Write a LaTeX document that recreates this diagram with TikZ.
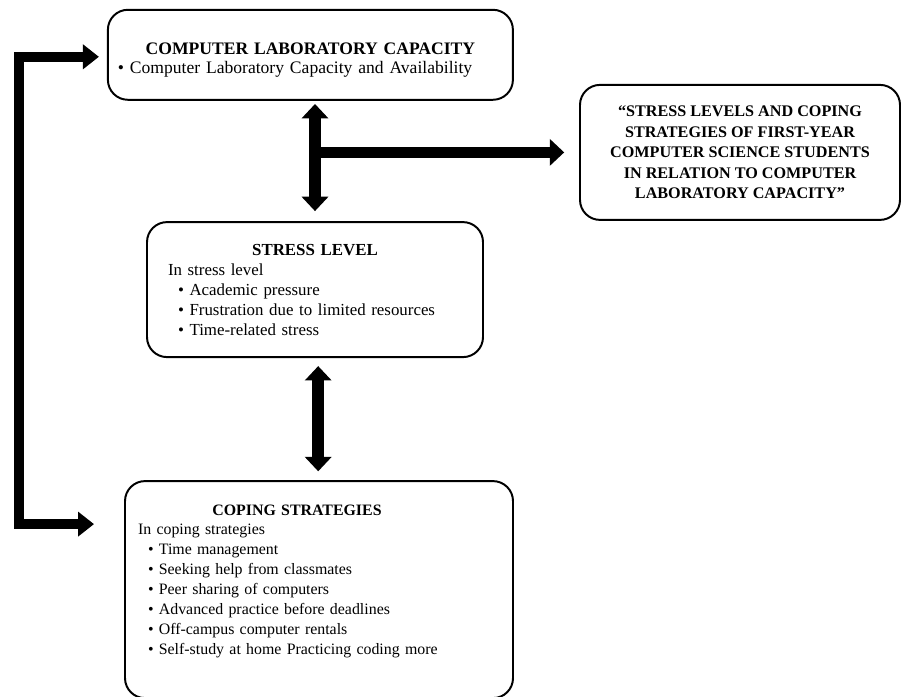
\documentclass[tikz,border=0pt]{standalone}
\usepackage{fontspec}
\setmainfont{Liberation Serif}
\usetikzlibrary{arrows.meta,calc}

\begin{document}
\begin{tikzpicture}[
        box/.style = {draw = black, line width = 1.4pt, rounded corners = 0.5cm, fill = white},
        fat/.style = {line width = 0.29cm, >={Triangle[width = 0.65cm, length = 0.36cm]}},
        thin loop/.style = {line width = 0.25cm, >={Triangle[width = 0.6cm, length = 0.4cm]}},
        font = \fontsize{11.5}{14.2}\selectfont]
        \useasboundingbox (0, 0) rectangle (22.55, 17.4);
        \node[box, minimum width = 10.125cm, minimum height = 2.25cm, text width = 9.625cm, font = \fontsize{12.5}{13.6}\selectfont] (lab) at (7.76, 16.03)
            {{\centering\rule{0pt}{0.55cm}\textbf{COMPUTER LABORATORY CAPACITY}\par}• Computer Laboratory Capacity and Availability};
        \node[box, minimum width = 8cm, minimum height = 3.375cm, align = center, font = \fontsize{11.5}{14.6}\selectfont\bfseries] (study) at (18.5, 13.59)
            {“STRESS LEVELS AND COPING\\ STRATEGIES OF FIRST-YEAR\\ COMPUTER SCIENCE STUDENTS\\ IN RELATION TO COMPUTER\\ LABORATORY CAPACITY”};
        \node[box, minimum width = 8.4cm, minimum height = 3.375cm, text width = 7.35cm, font = \fontsize{12}{14.2}\selectfont] (stress) at (7.875, 10.16)
            {{\centering\textbf{STRESS LEVEL}\par}In stress level\\
            \hspace*{0.25cm}• Academic pressure\\
            \hspace*{0.25cm}• Frustration due to limited resources\\
            \hspace*{0.25cm}• Time-related stress};
        \node[box, minimum width = 9.7cm, minimum height = 5.425cm, text width = 9.05cm, font = \fontsize{11.3}{14.2}\selectfont] (coping) at (7.975, 2.66)
            {\makebox[7.95cm]{\textbf{COPING STRATEGIES}}\\
            In coping strategies\\
            \hspace*{0.25cm}• Time management\\
            \hspace*{0.25cm}• Seeking help from classmates\\
            \hspace*{0.25cm}• Peer sharing of computers\\
            \hspace*{0.25cm}• Advanced practice before deadlines\\
            \hspace*{0.25cm}• Off-campus computer rentals\\
            \hspace*{0.25cm}• Self-study at home Practicing coding more\\
            \mbox{}};
        \coordinate (junction) at (stress.north |- study.west);
        \draw[fat, <->] ($(lab.south -| stress.north) + (0, -0.08)$) -- ($(stress.north) + (0, 0.25)$);
        \draw[fat, ->] (junction) -- ($(study.west) + (-0.37, 0)$);
        \draw[fat, <->] ($(stress.south) + (0.08, -0.2)$) -- ($(coping.north -| stress.south) + (0.08, 0.22)$);
        \draw[thin loop, <->] ($(lab.west) + (-0.2, -0.05)$) -| ($(coping.north west) + (-2.625, -1.1)$) -- ($(coping.north west) + (-0.75, -1.1)$);
    \end{tikzpicture}
\end{document}
